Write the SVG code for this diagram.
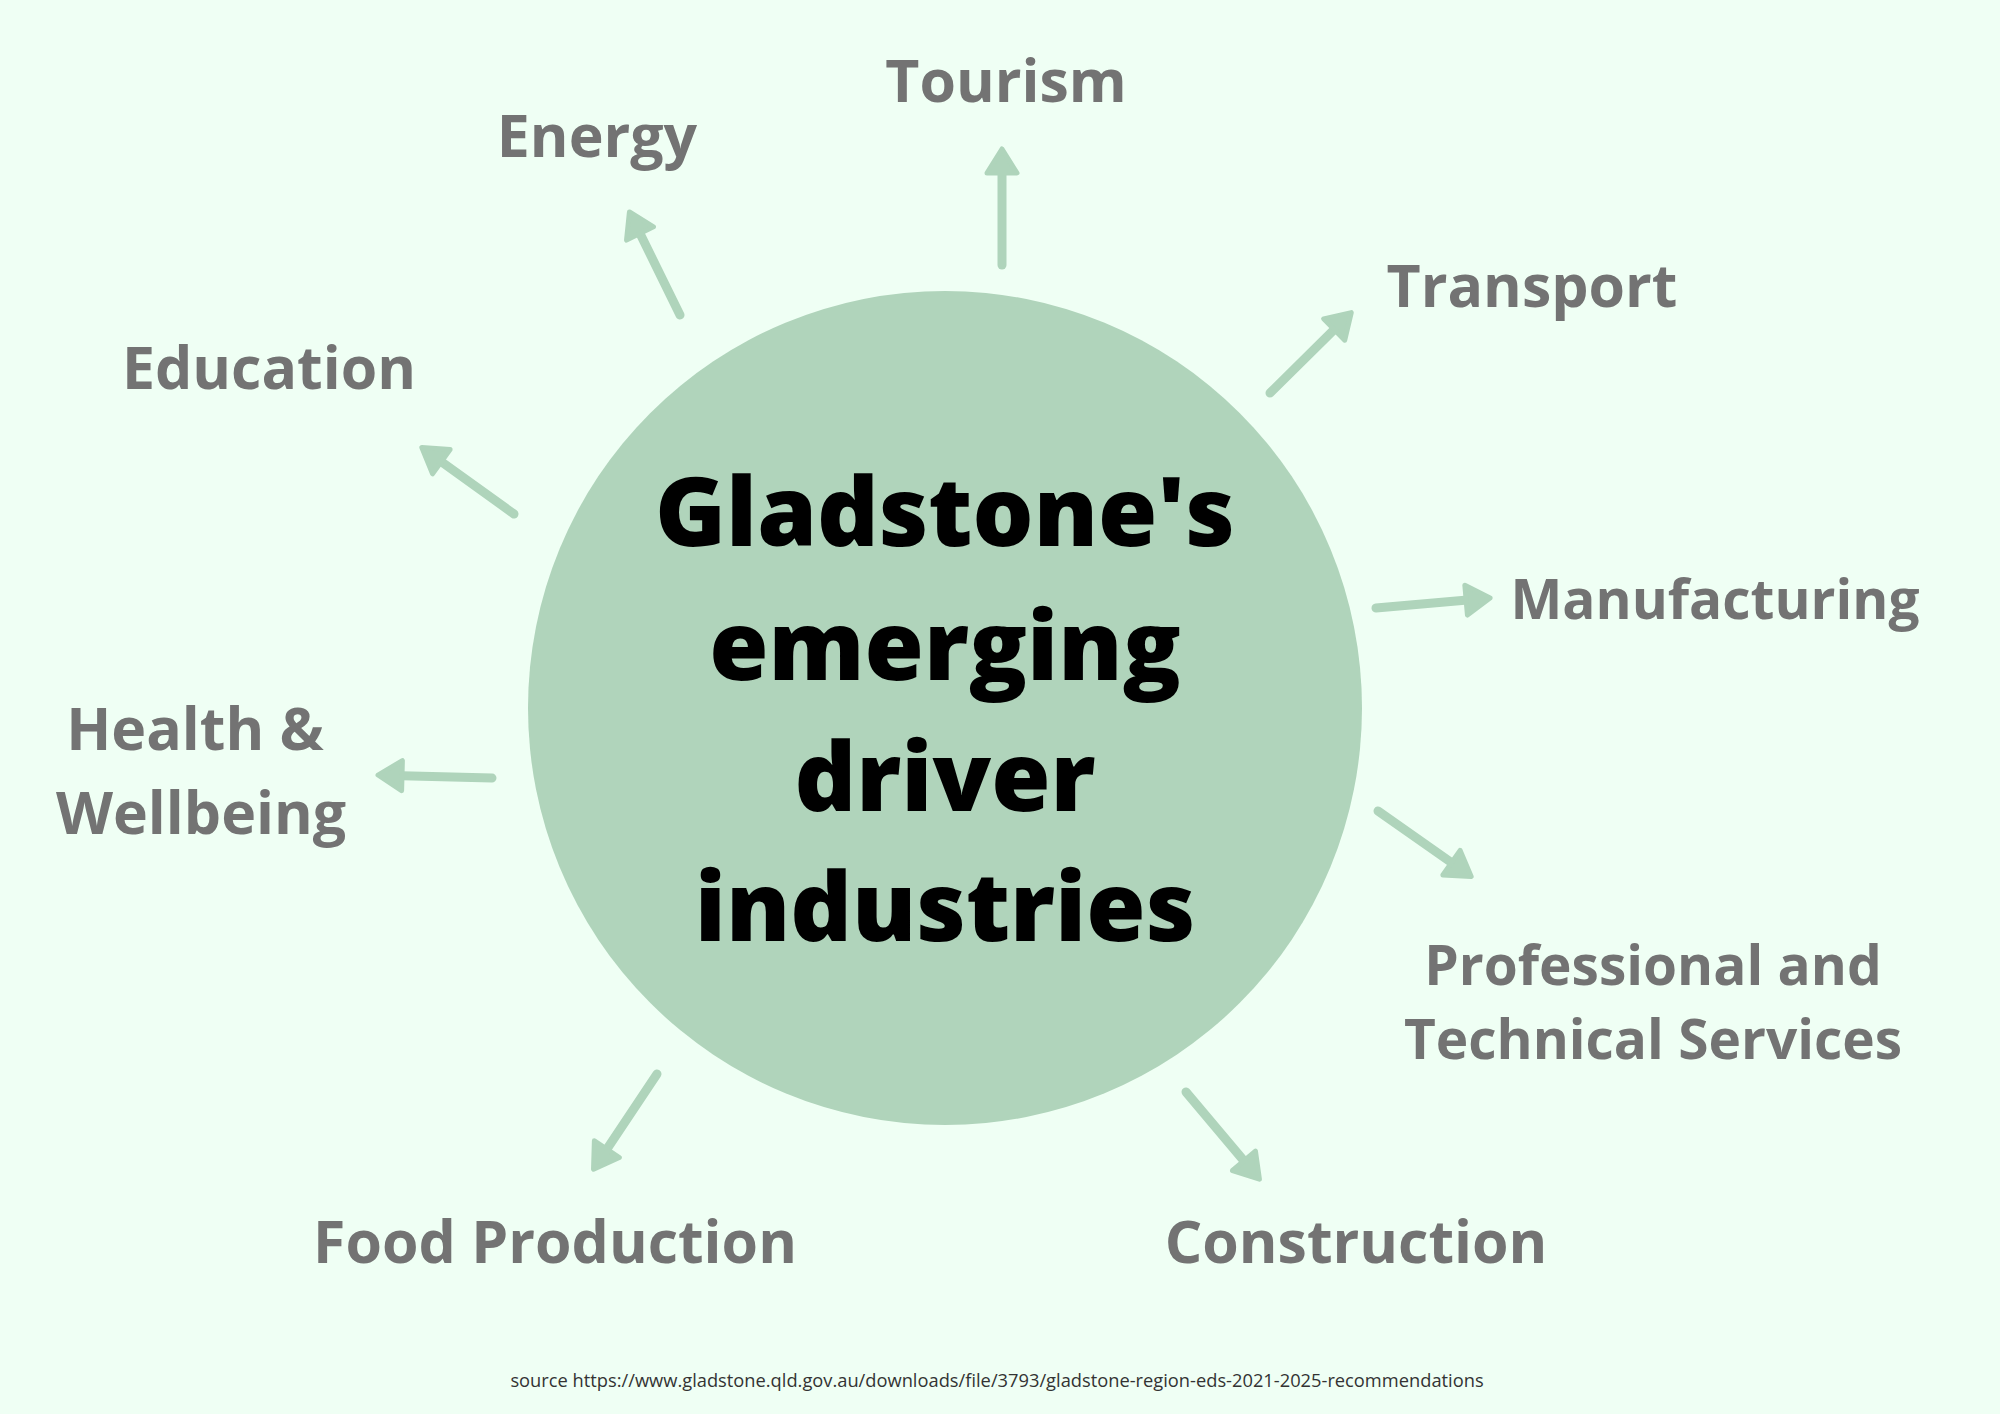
<svg xmlns="http://www.w3.org/2000/svg" width="2000" height="1414" viewBox="0 0 2000 1414">
<style>
.lbl{font-family:"Open Sans","Liberation Sans",sans-serif;font-weight:700;font-size:59px;fill:#737373;text-anchor:middle}
.sm{font-size:55px}
.title{font-family:"Open Sans","Liberation Sans",sans-serif;font-weight:800;font-size:96px;fill:#000;text-anchor:middle}
.src{font-family:"Open Sans","Liberation Sans",sans-serif;font-weight:400;font-size:18.3px;fill:#333;text-anchor:middle}
.arr{stroke:#afd4bb;stroke-width:9;stroke-linecap:round;fill:none;marker-end:url(#head)}
</style>
<defs>
<marker id="head" markerUnits="userSpaceOnUse" viewBox="0 0 30 36" markerWidth="30" markerHeight="36" refX="13" refY="18" orient="auto">
<path d="M3,3 L27,18 L3,33 Z" fill="#afd4bb" stroke="#afd4bb" stroke-width="5" stroke-linejoin="round"/>
</marker>
</defs>
<rect width="2000" height="1414" fill="#effff4"/>
<g id="center">
<circle cx="945" cy="708" r="417" fill="#b0d4bb"/>
<text class="title" x="945" y="546">Gladstone's</text>
<text class="title" x="945" y="680">emerging</text>
<text class="title" x="945" y="811">driver</text>
<text class="title" x="945" y="941">industries</text>
</g>
<g id="connectors">
<line class="arr" x1="1002" y1="265" x2="1002" y2="163"/>
<line class="arr" x1="680" y1="315" x2="635.6" y2="224.5"/>
<line class="arr" x1="1270" y1="393" x2="1341.3" y2="322.5"/>
<line class="arr" x1="514" y1="514" x2="433.2" y2="455.8"/>
<line class="arr" x1="1376" y1="608" x2="1476.1" y2="599.3"/>
<line class="arr" x1="492" y1="778" x2="392" y2="775.4"/>
<line class="arr" x1="1378" y1="811" x2="1459.7" y2="868.4"/>
<line class="arr" x1="657" y1="1074" x2="601.3" y2="1157.5"/>
<line class="arr" x1="1186" y1="1092" x2="1250.4" y2="1168.5"/>
</g>
<g id="tourism"><text class="lbl" x="1006" y="102">Tourism</text></g>
<g id="energy"><text class="lbl" x="597" y="157">Energy</text></g>
<g id="transport"><text class="lbl" x="1532" y="307">Transport</text></g>
<g id="education"><text class="lbl" x="269" y="389">Education</text></g>
<g id="manufacturing"><text class="lbl sm" x="1715" y="619">Manufacturing</text></g>
<g id="health"><text class="lbl" x="195" y="750">Health &amp;</text><text class="lbl" x="201" y="834">Wellbeing</text></g>
<g id="professional"><text class="lbl sm" x="1653" y="985">Professional and</text><text class="lbl sm" x="1653" y="1059">Technical Services</text></g>
<g id="food"><text class="lbl" x="555" y="1263">Food Production</text></g>
<g id="construction"><text class="lbl" x="1356" y="1263">Construction</text></g>
<g id="source"><text class="src" x="997" y="1387">source https://www.gladstone.qld.gov.au/downloads/file/3793/gladstone-region-eds-2021-2025-recommendations</text></g>
</svg>
